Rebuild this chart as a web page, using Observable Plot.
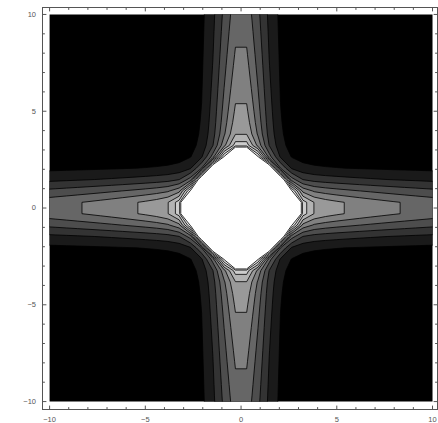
<!DOCTYPE html>
<html><head><meta charset="utf-8">
<script src="https://cdn.jsdelivr.net/npm/d3@7"></script>
<script src="https://cdn.jsdelivr.net/npm/@observablehq/plot@0.6"></script>
<style>html,body{margin:0;padding:0;background:#fff;} svg{display:block}</style>
</head><body><div id="chart"></div>
<script>
// ---- data ----
const levels = [0, 1, 2, 3, 4, 5, 6, 7, 8, 9, 10];     // contour thresholds (black .. white)
const grayRange = ["#000000", "#ffffff"];
const majorTicks = [-10, -5, 0, 5, 10];
const minorTicks = [-9, -8, -7, -6, -4, -3, -2, -1, 1, 2, 3, 4, 6, 7, 8, 9];
const plotRange = [-10, 10];
const cellsInRange = 34;                                // sampling cells across the plotted range
// field shape parameters
const ridgeBase = 10.45, ridgeLogSlope = 2.44, ridgeWidth = 1.47, ridgePower = 1.8, minSharpness = 4;
const coreHeight = 8, coreRadius = 2.78, coreDecay = 0.28, coreNorm = 1.6;

function field(x, y) {
  const a = Math.abs(x), b = Math.abs(y);
  const rho = Math.max(Math.hypot(a, b), 1e-6);
  const m = (a === 0 || b === 0) ? 0 : Math.pow(Math.pow(a, -minSharpness) + Math.pow(b, -minSharpness), -1 / minSharpness);
  const ridge = (ridgeBase - ridgeLogSlope * Math.log(rho)) * Math.exp(-Math.pow(m / ridgeWidth, ridgePower));
  const D = Math.pow(Math.pow(a, coreNorm) + Math.pow(b, coreNorm), 1 / coreNorm);
  const core = coreHeight * Math.exp(-(D - coreRadius) / coreDecay);
  return Math.min(ridge + core, 20);
}

const frameColor = "#555";
const cell = (plotRange[1] - plotRange[0]) / cellsInRange;
const gridN = cellsInRange + 2;
const tickShape = {draw(ctx, l) { ctx.moveTo(0, 0); ctx.lineTo(0, -l); }};
function ticks(values, anchor, rotate, len) {
  const key = (anchor === "bottom" || anchor === "top") ? "x" : "y";
  return Plot.vector(values, {[key]: d => d, frameAnchor: anchor, rotate, length: len, anchor: "start",
    shape: tickShape, stroke: frameColor, strokeWidth: 1});
}

const svg = Plot.plot({
  width: 438, height: 423,
  marginLeft: 42, marginRight: 1, marginTop: 7, marginBottom: 14,
  style: {fontFamily: "'Liberation Sans', Arial, sans-serif", background: "white", overflow: "visible"},
  x: {domain: [-10.37, 10.26]},
  y: {domain: [-10.41, 10.36]},
  color: {type: "linear", domain: [0, 10], range: grayRange},
  marks: [
    Plot.contour({value: field, x1: plotRange[0] - cell, x2: plotRange[1] + cell,
      y1: plotRange[0] - cell, y2: plotRange[1] + cell, width: gridN, height: gridN,
      thresholds: levels, fill: "value", stroke: "black", strokeWidth: 0.8}),
    Plot.frame({stroke: frameColor}),
    ticks(majorTicks, "bottom", 0, 3.5), ticks(minorTicks, "bottom", 0, 2),
    ticks(majorTicks, "top", 180, 3.5), ticks(minorTicks, "top", 180, 2),
    ticks(majorTicks, "left", 90, 3.5), ticks(minorTicks, "left", 90, 2),
    ticks(majorTicks, "right", -90, 3.5), ticks(minorTicks, "right", -90, 2),
    Plot.axisX(majorTicks, {anchor: "bottom", tickSize: 0, tickPadding: 7, fontSize: 7.5, color: "#555", label: null}),
    Plot.axisY(majorTicks, {anchor: "left", tickSize: 0, tickPadding: 6.5, fontSize: 7.5, color: "#555", label: null})
  ]
});

// clip the contour fill to the plotted range
const xs = svg.scale("x"), ys = svg.scale("y");
const sel = d3.select(svg);
sel.insert("defs", ":first-child").append("clipPath").attr("id", "dataclip")
  .append("rect")
  .attr("x", xs.apply(plotRange[0])).attr("y", ys.apply(plotRange[1]))
  .attr("width", xs.apply(plotRange[1]) - xs.apply(plotRange[0]))
  .attr("height", ys.apply(plotRange[0]) - ys.apply(plotRange[1]));
sel.selectAll('g[aria-label="contour"]').attr("clip-path", "url(#dataclip)");
document.getElementById("chart").appendChild(svg);
</script></body></html>
